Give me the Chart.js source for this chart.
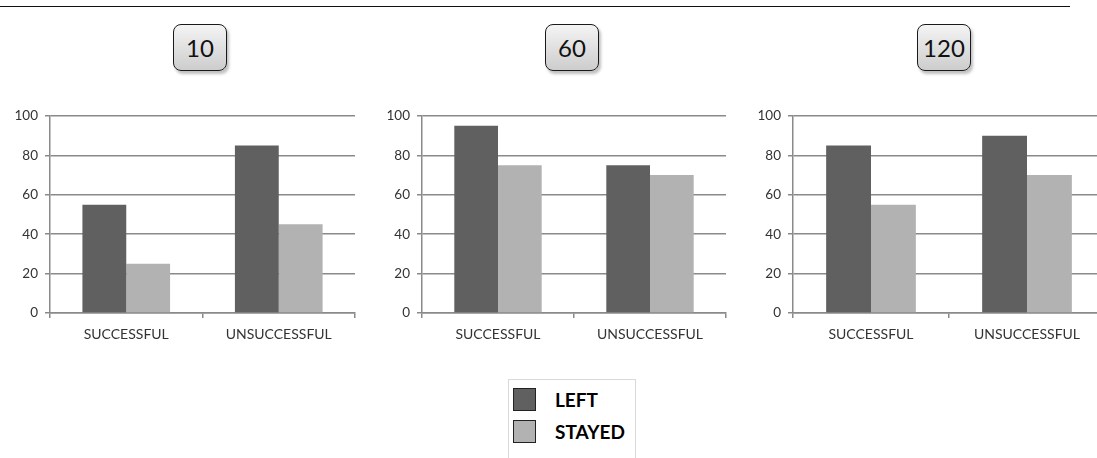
<!DOCTYPE html>
<html>
<head>
<meta charset="utf-8">
<script src="https://cdn.jsdelivr.net/npm/chart.js@4.4.1/dist/chart.umd.min.js"></script>
<style>
  html, body { margin: 0; padding: 0; background: #fff; overflow: hidden; width: 1097px; height: 458px; }
  body { position: relative; font-family: Lato, "Open Sans", sans-serif; }
  .rule { position: absolute; left: 0; top: 6px; width: 1070px; height: 0; border-top: 1.5px solid #111; }
  .panel-title {
    position: absolute; top: 24px; width: 52px; height: 45px;
    border: 1.5px solid #1a1a1a; border-radius: 8px;
    background: linear-gradient(#f4f4f4, #cdcdcd);
    box-shadow: 2px 3px 3px rgba(0,0,0,0.25);
    font-size: 24px; color: #111; text-align: center; line-height: 45px;
  }
  .chart-box { position: absolute; top: 100px; height: 250px; }
  .legend {
    position: absolute; left: 508px; top: 379px; width: 126px; height: 90px;
    border: 1px solid #d9d9d9; background: #fff;
  }
  .legend-row { position: absolute; left: 4px; height: 24px; }
  .legend-swatch { position: absolute; left: 0; top: 0; width: 21px; height: 21px; border: 1.5px solid #222; }
  .legend-text { position: absolute; left: 42px; top: 0; line-height: 24px; font-weight: bold; font-size: 19px; color: #000; white-space: nowrap; }
</style>
</head>
<body>
<div class="rule"></div>
<div id="titles"></div>
<div id="charts"></div>
<div class="legend" id="legend"></div>
<script>
// Outcome categories on the x axis
const categories = ['SUCCESSFUL', 'UNSUCCESSFUL'];
// One panel per time point
const panelTitles = ['10', '60', '120'];
const seriesNames = ['LEFT', 'STAYED'];
// Percentages per panel: [successful, unsuccessful]
const leftValues   = [[55, 85], [95, 75], [85, 90]];
const stayedValues = [[25, 45], [75, 70], [55, 70]];
const yTicks = [0, 20, 40, 60, 80, 100];

// Styling and placement
const seriesColors = ['#606060', '#b2b2b2'];
const gridColor = '#8a8a8a';
const panels = [
  { left: 0,   width: 370, padRight: 15, titleLeft: 173 },
  { left: 372, width: 370, padRight: 16, titleLeft: 545 },
  { left: 743, width: 370, padRight: 8,  titleLeft: 917 }
];

const titleHost = document.getElementById('titles');
const chartHost = document.getElementById('charts');

panels.forEach((p, i) => {
  const t = document.createElement('div');
  t.className = 'panel-title';
  t.style.left = p.titleLeft + 'px';
  t.textContent = panelTitles[i];
  titleHost.appendChild(t);

  const box = document.createElement('div');
  box.className = 'chart-box';
  box.style.left = p.left + 'px';
  box.style.width = p.width + 'px';
  const canvas = document.createElement('canvas');
  box.appendChild(canvas);
  chartHost.appendChild(box);

  new Chart(canvas, {
    type: 'bar',
    data: {
      labels: categories,
      datasets: [
        { label: seriesNames[0], data: leftValues[i], backgroundColor: seriesColors[0] },
        { label: seriesNames[1], data: stayedValues[i], backgroundColor: seriesColors[1] }
      ]
    },
    options: {
      responsive: true,
      maintainAspectRatio: false,
      animation: false,
      events: [],
      layout: { padding: { top: 16, right: p.padRight, left: 0, bottom: 0 } },
      datasets: { bar: { categoryPercentage: 0.575, barPercentage: 1.0 } },
      plugins: { legend: { display: false }, tooltip: { enabled: false } },
      scales: {
        x: {
          afterFit: s => { s.height = 37; },
          grid: { display: true, drawOnChartArea: false, drawTicks: true, tickLength: 5, offset: true, color: gridColor, lineWidth: 1.5 },
          border: { display: true, color: gridColor, width: 1.5 },
          ticks: { padding: 8, color: '#333', font: { family: 'Lato', size: 14 }, maxRotation: 0 }
        },
        y: {
          min: 0, max: 100,
          afterFit: s => { s.width = 50; },
          afterBuildTicks: s => { s.ticks = yTicks.map(v => ({ value: v })); },
          grid: { color: gridColor, lineWidth: 1.5, tickLength: 5 },
          border: { display: true, color: gridColor, width: 1.5 },
          ticks: { padding: 7, color: '#333', font: { family: 'Lato', size: 13.5 } }
        }
      }
    }
  });
});

// Shared legend
const legend = document.getElementById('legend');
seriesNames.forEach((name, k) => {
  const row = document.createElement('div');
  row.className = 'legend-row';
  row.style.top = (8 + k * 32) + 'px';
  const sw = document.createElement('div');
  sw.className = 'legend-swatch';
  sw.style.background = seriesColors[k];
  const tx = document.createElement('div');
  tx.className = 'legend-text';
  tx.textContent = name;
  row.appendChild(sw);
  row.appendChild(tx);
  legend.appendChild(row);
});
</script>
</body>
</html>
